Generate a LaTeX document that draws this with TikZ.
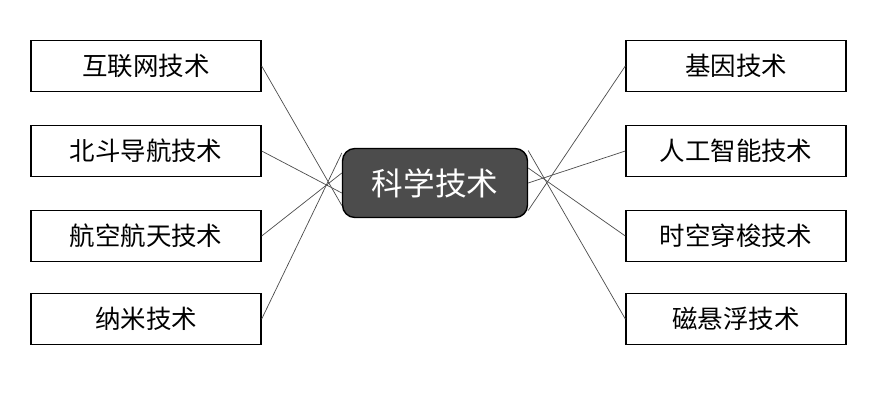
\documentclass[tikz,border=0pt]{standalone}
\usepackage{fontspec}
\setmainfont{Noto Sans CJK SC}
\begin{document}
\begin{tikzpicture}[
		x=0.02cm, y=-0.02cm,
		techbox/.style={draw, thick, minimum width=4.6cm, minimum height=1.02cm, inner sep=0pt, font=\fontsize{14.5}{16}\selectfont},
		hub/.style={draw=black, thick, rounded corners=7pt, fill=black!70, text=white, minimum width=3.7cm, minimum height=1.38cm, font=\fontsize{18}{20}\selectfont},
		link/.style={draw=black!70, thin}]
	\useasboundingbox (0,0) rectangle (881,409);

	\node[hub] (keji) at (435,183) {科学技术};

	\node[techbox] (hulian) at (146,66) {互联网技术};
	\node[techbox] (beidou) at (146,151) {北斗导航技术};
	\node[techbox] (hangkong) at (146,236) {航空航天技术};
	\node[techbox] (nami) at (146,319) {纳米技术};

	\node[techbox, minimum width=4.4cm] (jiyin) at (736,66) {基因技术};
	\node[techbox, minimum width=4.4cm] (rengong) at (736,151) {人工智能技术};
	\node[techbox, minimum width=4.4cm] (shikong) at (736,236) {时空穿梭技术};
	\node[techbox, minimum width=4.4cm] (cixuan) at (736,319) {磁悬浮技术};

	\draw[link] (hulian.east) -- ([yshift=-0.45cm]keji.west);
	\draw[link] (beidou.east) -- ([yshift=-0.2cm]keji.west);
	\draw[link] (hangkong.east) -- ([yshift=0.2cm]keji.west);
	\draw[link] (nami.east) -- ([yshift=0.6cm]keji.west);
	\draw[link] (jiyin.west) -- ([yshift=-0.55cm]keji.east);
	\draw[link] (rengong.west) -- ([yshift=0cm]keji.east);
	\draw[link] (shikong.west) -- ([yshift=0.3cm]keji.east);
	\draw[link] (cixuan.west) -- ([yshift=0.65cm]keji.east);
\end{tikzpicture}
\end{document}
